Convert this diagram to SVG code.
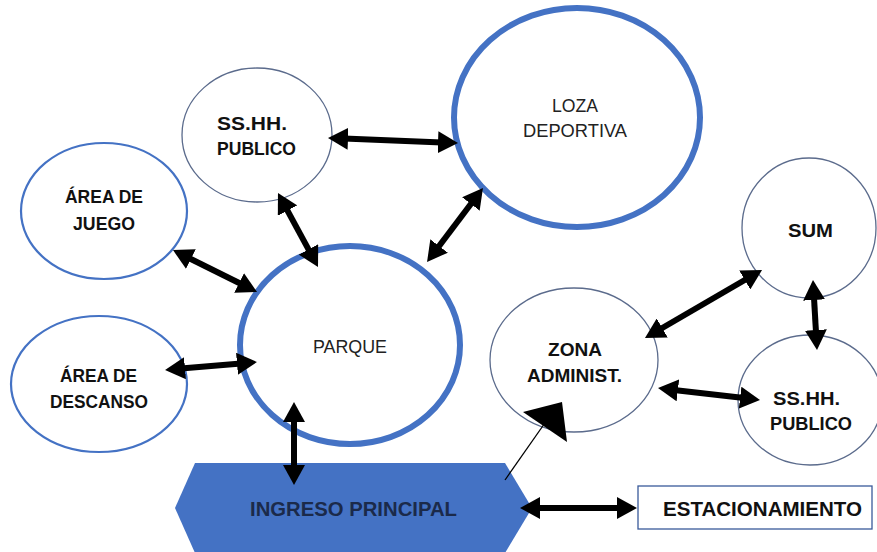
<svg xmlns="http://www.w3.org/2000/svg" width="877" height="552" viewBox="0 0 877 552">
<style>
.bg{fill:#ffffff}
.thin{fill:#ffffff;stroke:#5b6b8c;stroke-width:1.3}
.mid{fill:#ffffff;stroke:#4472c4;stroke-width:2.2}
.thick{fill:#ffffff;stroke:#4472c4;stroke-width:6}
.b{font-family:"Liberation Sans",Arial,sans-serif;font-weight:bold;font-size:19px;fill:#111;text-anchor:middle}
.r{font-family:"Liberation Sans",Arial,sans-serif;font-size:18px;fill:#222;text-anchor:middle}
.conn{stroke:#000;stroke-width:6;fill:none;marker-start:url(#ah);marker-end:url(#ah)}
</style>
<defs>
<marker id="ah" markerUnits="userSpaceOnUse" markerWidth="20" markerHeight="22" refX="4" refY="11" orient="auto-start-reverse" viewBox="0 0 20 22">
<path d="M0,0 L20,11 L0,22 z" fill="#000"/>
</marker>
</defs>
<rect class="bg" x="0" y="0" width="877" height="552"/>

<g id="loza"><ellipse class="thick" cx="577" cy="117.5" rx="123" ry="109.5"/>
<text class="r" x="575" y="112" textLength="46" lengthAdjust="spacingAndGlyphs">LOZA</text><text class="r" x="575" y="137" textLength="104" lengthAdjust="spacingAndGlyphs">DEPORTIVA</text></g>

<g id="sshh1"><ellipse class="thin" cx="257" cy="135" rx="75" ry="67"/>
<text class="b" x="252" y="130" textLength="70" lengthAdjust="spacingAndGlyphs">SS.HH.</text><text class="b" x="256.5" y="155" textLength="79" lengthAdjust="spacingAndGlyphs">PUBLICO</text></g>

<g id="juego"><ellipse class="mid" cx="104" cy="211" rx="83" ry="68"/>
<text class="b" x="104" y="203" textLength="78" lengthAdjust="spacingAndGlyphs">ÁREA DE</text><text class="b" x="104" y="230" textLength="62" lengthAdjust="spacingAndGlyphs">JUEGO</text></g>

<g id="descanso"><ellipse class="mid" cx="99" cy="384" rx="88" ry="68"/>
<text class="b" x="98.5" y="382" textLength="77" lengthAdjust="spacingAndGlyphs">ÁREA DE</text><text class="b" x="99" y="408" textLength="98" lengthAdjust="spacingAndGlyphs">DESCANSO</text></g>

<g id="parque"><ellipse class="thick" cx="350" cy="345" rx="110" ry="99"/>
<text class="r" x="350" y="353" textLength="74" lengthAdjust="spacingAndGlyphs">PARQUE</text></g>

<g id="sum"><ellipse class="thin" cx="809" cy="228" rx="67" ry="70"/>
<text class="b" x="810.5" y="237" textLength="45" lengthAdjust="spacingAndGlyphs">SUM</text></g>

<g id="zona"><ellipse class="thin" cx="574" cy="360" rx="84" ry="72"/>
<text class="b" x="575" y="356" textLength="54" lengthAdjust="spacingAndGlyphs">ZONA</text><text class="b" x="574.5" y="382" textLength="95" lengthAdjust="spacingAndGlyphs">ADMINIST.</text></g>

<g id="sshh2"><ellipse class="thin" cx="810" cy="400" rx="72" ry="65"/>
<text class="b" x="806.5" y="405" textLength="67" lengthAdjust="spacingAndGlyphs">SS.HH.</text><text class="b" x="811" y="430" textLength="82" lengthAdjust="spacingAndGlyphs">PUBLICO</text></g>

<g id="ingreso"><polygon points="175,508 195,463 505,463 532,508 505,553 195,553" fill="#4472c4"/>
<text class="b" x="353.5" y="516" style="fill:#1b2a4a;font-size:20px" textLength="207" lengthAdjust="spacingAndGlyphs">INGRESO PRINCIPAL</text></g>

<g id="estacionamiento"><rect x="638" y="486" width="234" height="43" fill="#fff" stroke="#3a5a9a" stroke-width="1.3"/>
<text class="b" x="762.5" y="516" style="font-size:20px" textLength="199" lengthAdjust="spacingAndGlyphs">ESTACIONAMIENTO</text></g>

<g id="connectors">
<line class="conn" x1="344" y1="138.6" x2="442" y2="142.4"/>
<line class="conn" x1="285.6" y1="207.1" x2="310.4" y2="252.9"/>
<line class="conn" x1="473.3" y1="200.8" x2="436.7" y2="249.2"/>
<line class="conn" x1="187.3" y1="257.2" x2="242.7" y2="284.8"/>
<line class="conn" x1="181" y1="368.6" x2="241" y2="363.4"/>
<line class="conn" x1="294" y1="418" x2="294" y2="469"/>
<line class="conn" x1="748.2" y1="278" x2="658.8" y2="330"/>
<line class="conn" x1="813.9" y1="296" x2="816.1" y2="334"/>
<line class="conn" x1="673.9" y1="389.9" x2="744.1" y2="398.1"/>
<line class="conn" x1="536" y1="508" x2="621" y2="508"/>
<line x1="505" y1="480" x2="547" y2="420" stroke="#000" stroke-width="1.3"/>
<polygon points="523,412 562,402 567,442" fill="#000"/>
</g>
</svg>
